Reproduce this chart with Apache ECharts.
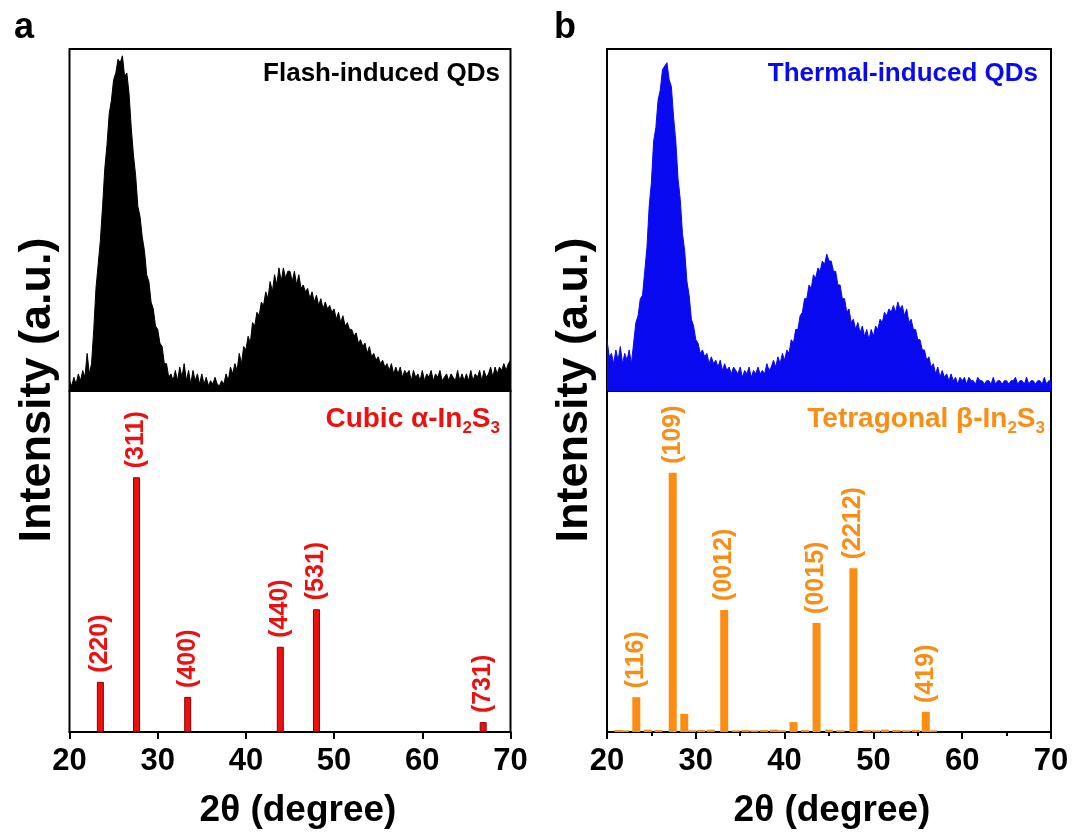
<!DOCTYPE html>
<html>
<head>
<meta charset="utf-8">
<script src="https://cdn.jsdelivr.net/npm/echarts@6/dist/echarts.min.js"></script>
<style>
  html, body { margin: 0; padding: 0; background: #fff; }
  #chart { width: 1075px; height: 834px; }
</style>
</head>
<body>
<div id="chart"></div>
<script>
// 2θ sampling of the measured XRD patterns (degrees)
const thetaStart = 20;
const thetaStep = 0.25;

// Flash-induced QDs, relative intensity (%), 20.00° … 70.00°
const flashIntensity = [
  3, 1.5, 4, 2, 5, 3, 6, 4, 11, 5, 8, 18, 30, 37, 44, 54, 65, 72, 81, 85,
  91, 93, 97, 96, 98, 92, 93, 87, 77, 69, 63, 54, 51, 45, 41, 34, 32, 26, 24, 19,
  18, 14, 13, 8, 8, 4, 5, 3, 6, 3, 7, 4, 8, 3, 6, 2, 6, 3, 5, 2,
  5, 2, 4, 1.5, 3, 2, 4, 2, 1.5, 3, 2, 5, 3, 7, 5, 8, 6, 11, 8, 13,
  12, 16, 14, 20, 19, 23, 22, 26, 25, 29, 27, 32, 29, 34, 31, 36, 32, 36, 33, 35,
  35, 32, 35, 31, 34, 30, 31, 29, 30, 27, 29, 26, 28, 25, 27, 24, 26, 24, 25, 23,
  24, 21, 23, 20, 22, 19, 20, 18, 18, 16, 17, 14, 15, 13, 14, 11, 13, 10, 11, 9,
  10, 8, 9, 7, 8, 6, 8, 5, 7, 5, 7, 4, 6, 5, 6, 3, 6, 4, 5, 3,
  6, 3, 5, 4, 6, 3, 5, 4, 6, 3, 4, 5, 3, 5, 4, 3, 6, 3, 5, 3,
  5, 3, 6, 3, 5, 4, 6, 3, 6, 4, 5, 7, 4, 7, 5, 7, 6, 8, 6, 8,
  9
];

// Thermal-induced QDs, relative intensity (%), 20.00° … 70.00°
const thermalIntensity = [
  15, 10, 11, 8, 12, 9, 13, 8, 11, 9, 12, 8, 14, 20, 22, 27, 28, 35, 42, 54,
  61, 73, 77, 85, 88, 94, 95, 96, 91, 89, 80, 73, 62, 56, 46, 41, 32, 28, 21, 19,
  15, 14, 11, 12, 10, 11, 8, 10, 8, 9, 7, 9, 6, 8, 6, 7, 5, 7, 6, 5,
  7, 4, 6, 5, 7, 4, 6, 5, 7, 5, 6, 5, 8, 6, 7, 9, 7, 10, 8, 11,
  9, 12, 11, 15, 14, 18, 18, 22, 23, 27, 27, 31, 30, 34, 33, 36, 35, 38, 37, 40,
  38, 38, 35, 35, 31, 31, 27, 27, 23, 24, 20, 21, 18, 20, 17, 19, 16, 18, 15, 18,
  16, 19, 18, 21, 20, 23, 22, 24, 23, 25, 23, 26, 24, 25, 22, 24, 20, 21, 18, 18,
  15, 15, 12, 12, 9, 10, 7, 8, 5, 7, 4, 6, 4, 5, 3, 5, 3, 4, 2, 4,
  3, 4, 2, 4, 3, 3, 2, 4, 3, 3, 2, 3, 3, 2, 4, 2, 3, 3, 2, 3,
  3, 2, 3, 3, 4, 2, 3, 3, 2, 4, 2, 3, 3, 2, 3, 3, 2, 4, 2, 3,
  3
];

// Cubic α-In2S3 reference reflections
const alphaPeaks   = [23.5, 27.6, 33.4, 43.9, 48.0, 66.9];
const alphaHeights = [14.7, 74.7, 10.3, 25.0, 36.0, 2.9];
const alphaPlanes  = ['(220)', '(311)', '(400)', '(440)', '(531)', '(731)'];

// Tetragonal β-In2S3 reference reflections (strong ones and weak ones)
const betaPeaks   = [23.3, 27.4, 28.7, 33.2, 41.0, 43.6, 47.75, 55.9];
const betaHeights = [10.2, 76.0, 5.3, 35.8, 2.9, 32.0, 48.0, 5.9];
const betaPlanes  = ['(116)', '(109)', '', '(0012)', '', '(0015)', '(2212)', '(419)'];
const betaWeakPeaks   = [21.3, 22.0, 24.6, 25.8, 29.6, 30.6, 31.7, 34.5, 35.6, 36.6, 37.7, 38.8,
                         39.7, 42.3, 45.0, 46.3, 49.3, 50.3, 51.3, 52.6, 53.7, 54.8, 56.7];
const betaWeakHeights = [0.6, 0.5, 0.7, 0.6, 0.5, 0.6, 0.7, 0.5, 0.6, 0.5, 0.6, 0.7,
                         0.5, 0.6, 0.7, 0.5, 0.6, 0.5, 0.7, 0.6, 0.5, 0.6, 0.5];

// x-axis tick labels
const xTicks = [20, 30, 40, 50, 60, 70];

const FONT = 'Arial, "Liberation Sans", Helvetica, sans-serif';
const RED = '#ec1010';
const ORANGE = '#fb8c14';
const BLUE = '#0a0af0';

const patternPoints = arr => arr.map((v, i) => [thetaStart + i * thetaStep, v]);

const alphaData = alphaPeaks.map((x, i) => ({
  value: [x, alphaHeights[i]], name: alphaPlanes[i], label: { show: alphaPlanes[i] !== '' }
}));
const betaData = betaPeaks.map((x, i) => ({
  value: [x, betaHeights[i]], name: betaPlanes[i], label: { show: betaPlanes[i] !== '' }
})).concat(betaWeakPeaks.map((x, i) => ({
  value: [x, betaWeakHeights[i]], name: '', label: { show: false }
})));

const frame = { show: true, borderColor: '#000', borderWidth: 2, backgroundColor: 'transparent' };

function xAxisFor(gridIndex, visible, minor) {
  return {
    type: 'value', gridIndex, min: xTicks[0], max: xTicks[xTicks.length - 1], interval: 10,
    show: visible,
    axisLine: { show: true, lineStyle: { color: '#000', width: 2 } },
    axisTick: { show: true, inside: false, length: 7, lineStyle: { color: '#000', width: 2 } },
    minorTick: { show: minor, splitNumber: 2, length: 4, lineStyle: { color: '#000', width: 2 } },
    axisLabel: {
      show: true, color: '#000', fontSize: 31, fontWeight: 'bold', fontFamily: FONT, margin: 14,
      formatter: v => (xTicks.indexOf(v) >= 0 ? String(v) : '')
    },
    splitLine: { show: false }
  };
}
function yAxisFor(gridIndex) {
  return { type: 'value', gridIndex, min: 0, max: 100, show: false, splitLine: { show: false } };
}
function barLabel(color) {
  return {
    show: true, position: 'top', rotate: 90, align: 'left', verticalAlign: 'middle',
    distance: 9, formatter: '{b}', color, fontSize: 25, fontWeight: 'bold', fontFamily: FONT
  };
}

const chart = echarts.init(document.getElementById('chart'), null, { renderer: 'canvas' });
chart.setOption({
  animation: false,
  backgroundColor: '#fff',
  grid: [
    Object.assign({ left: 69.5, top: 49, width: 441, height: 342 }, frame),
    Object.assign({ left: 69.5, top: 391, width: 441, height: 341 }, frame),
    Object.assign({ left: 607, top: 49, width: 444, height: 342 }, frame),
    Object.assign({ left: 607, top: 391, width: 444, height: 341 }, frame)
  ],
  xAxis: [
    xAxisFor(0, false, false),
    xAxisFor(1, true, false),
    xAxisFor(2, false, false),
    xAxisFor(3, true, true)
  ],
  yAxis: [yAxisFor(0), yAxisFor(1), yAxisFor(2), yAxisFor(3)],
  series: [
    {
      name: 'Flash-induced QDs', type: 'line', xAxisIndex: 0, yAxisIndex: 0,
      data: patternPoints(flashIntensity), symbol: 'none', silent: true,
      lineStyle: { color: '#000', width: 1 }, areaStyle: { color: '#000', opacity: 1 }
    },
    {
      name: 'Thermal-induced QDs', type: 'line', xAxisIndex: 2, yAxisIndex: 2,
      data: patternPoints(thermalIntensity), symbol: 'none', silent: true,
      lineStyle: { color: BLUE, width: 1 }, areaStyle: { color: BLUE, opacity: 1 }
    },
    {
      name: 'Cubic α-In2S3', type: 'bar', xAxisIndex: 1, yAxisIndex: 1,
      data: alphaData, barWidth: 7, silent: true,
      itemStyle: { color: RED, borderColor: '#8c0000', borderWidth: 1 },
      label: barLabel(RED)
    },
    {
      name: 'Tetragonal β-In2S3', type: 'bar', xAxisIndex: 3, yAxisIndex: 3,
      data: betaData, barWidth: 8, silent: true,
      itemStyle: { color: ORANGE },
      label: barLabel(ORANGE)
    }
  ],
  graphic: [
    { type: 'text', x: 14, y: 28, style: { text: 'a', fontSize: 36, fontWeight: 'bold', fontFamily: FONT, fill: '#000', verticalAlign: 'middle' } },
    { type: 'text', x: 554, y: 28, style: { text: 'b', fontSize: 36, fontWeight: 'bold', fontFamily: FONT, fill: '#000', verticalAlign: 'middle' } },
    { type: 'text', x: 500, y: 74, style: { text: 'Flash-induced QDs', fontSize: 26, fontWeight: 'bold', fontFamily: FONT, fill: '#000', align: 'right', verticalAlign: 'middle' } },
    { type: 'text', x: 1038, y: 74, style: { text: 'Thermal-induced QDs', fontSize: 26, fontWeight: 'bold', fontFamily: FONT, fill: BLUE, align: 'right', verticalAlign: 'middle' } },
    {
      type: 'text', x: 500, y: 419,
      style: {
        text: '{m|Cubic α-In}{s|2}{m|S}{s|3}', align: 'right', verticalAlign: 'middle',
        rich: {
          m: { fontSize: 28, fontWeight: 'bold', fontFamily: FONT, fill: RED, lineHeight: 36 },
          s: { fontSize: 17, fontWeight: 'bold', fontFamily: FONT, fill: RED, lineHeight: 16, verticalAlign: 'bottom' }
        }
      }
    },
    {
      type: 'text', x: 1045, y: 419,
      style: {
        text: '{m|Tetragonal β-In}{s|2}{m|S}{s|3}', align: 'right', verticalAlign: 'middle',
        rich: {
          m: { fontSize: 28, fontWeight: 'bold', fontFamily: FONT, fill: ORANGE, lineHeight: 36 },
          s: { fontSize: 17, fontWeight: 'bold', fontFamily: FONT, fill: ORANGE, lineHeight: 16, verticalAlign: 'bottom' }
        }
      }
    },
    { type: 'text', x: 38, y: 390, rotation: Math.PI / 2, style: { text: 'Intensity (a.u.)', fontSize: 45, fontWeight: 'bold', fontFamily: FONT, fill: '#000', align: 'center', verticalAlign: 'middle' } },
    { type: 'text', x: 575, y: 390, rotation: Math.PI / 2, style: { text: 'Intensity (a.u.)', fontSize: 45, fontWeight: 'bold', fontFamily: FONT, fill: '#000', align: 'center', verticalAlign: 'middle' } },
    { type: 'text', x: 298, y: 811, style: { text: '2θ (degree)', fontSize: 37, fontWeight: 'bold', fontFamily: FONT, fill: '#000', align: 'center', verticalAlign: 'middle' } },
    { type: 'text', x: 832, y: 811, style: { text: '2θ (degree)', fontSize: 37, fontWeight: 'bold', fontFamily: FONT, fill: '#000', align: 'center', verticalAlign: 'middle' } }
  ]
});
</script>
</body>
</html>
